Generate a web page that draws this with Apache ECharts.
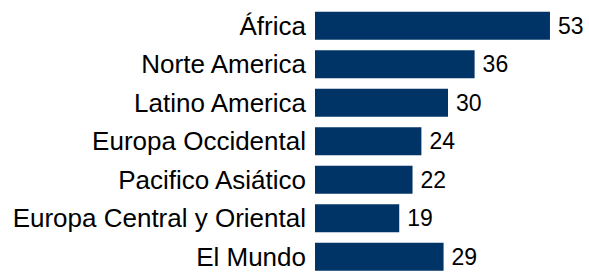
<!DOCTYPE html>
<html>
<head>
<meta charset="utf-8">
<style>
  html, body { margin: 0; padding: 0; background: #fff; }
  #chart { width: 589px; height: 276px; }
</style>
<script src="https://cdn.jsdelivr.net/npm/echarts@6/dist/echarts.min.js"></script>
</head>
<body>
<div id="chart"></div>
<script>
const regions = ['África', 'Norte America', 'Latino America', 'Europa Occidental',
  'Pacifico Asiático', 'Europa Central y Oriental', 'El Mundo']
const values = [53, 36, 30, 24, 22, 19, 29]

const chart = echarts.init(document.getElementById('chart'), null, { renderer: 'svg' })
chart.setOption({
  animation: false,
  grid: {
    left: 315,
    top: 6.5,
    width: 266,
    height: 276.5
  },
  xAxis: {
    type: 'value',
    min: 0,
    max: 60,
    show: false
  },
  yAxis: {
    type: 'category',
    inverse: true,
    data: regions,
    axisLine: { show: false },
    axisTick: { show: false },
    axisLabel: {
      margin: 9,
      color: '#000',
      fontFamily: 'Liberation Sans',
      fontSize: 26
    }
  },
  series: [{
    type: 'bar',
    data: values,
    barCategoryGap: '27%',
    itemStyle: { color: '#003366' },
    label: {
      show: true,
      position: 'right',
      distance: 8,
      color: '#000',
      fontFamily: 'Liberation Sans',
      fontSize: 23
    }
  }]
})
</script>
</body>
</html>
